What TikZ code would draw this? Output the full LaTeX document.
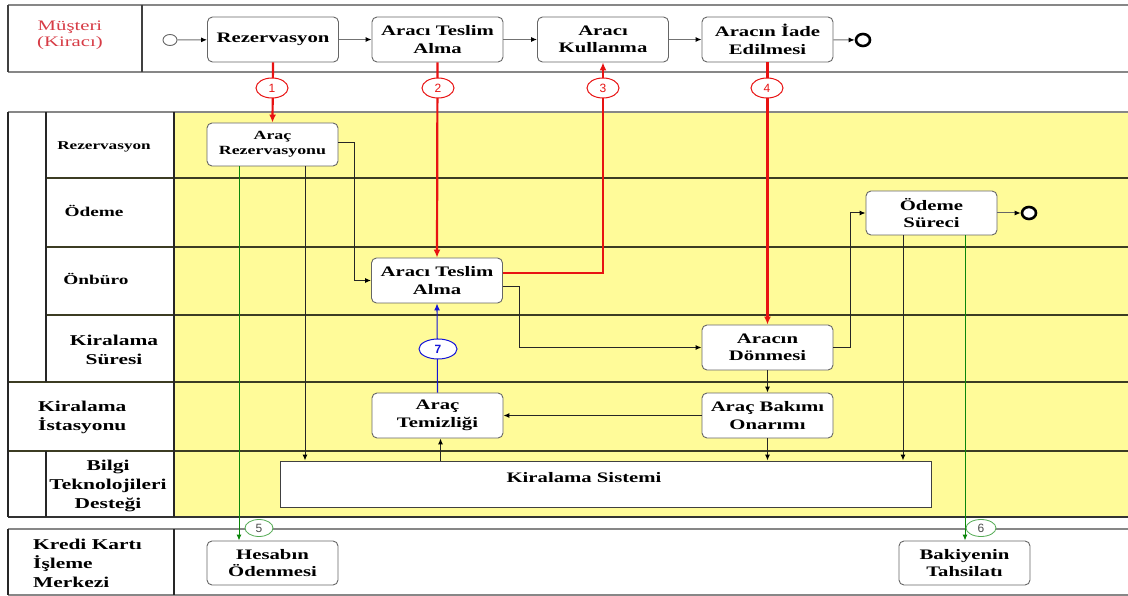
\documentclass[tikz,border=0pt]{standalone}
\usepackage{fontspec}
\setmainfont{Liberation Serif}[FakeStretch=1.43]
\setsansfont{Liberation Sans}
\usetikzlibrary{arrows.meta,shapes.geometric}

\definecolor{laneyellow}{RGB}{255,251,153}
\definecolor{flowred}{RGB}{232,18,18}
\definecolor{flowgreen}{RGB}{10,135,10}
\definecolor{flowblue}{RGB}{20,20,215}
\definecolor{poolgray}{RGB}{135,135,135}
\definecolor{laneline}{RGB}{60,60,35}
\definecolor{custred}{RGB}{215,60,70}

\begin{document}
\begin{tikzpicture}[x=1pt,y=-1pt,
  box/.style={draw=black!60, line width=0.9pt, rounded corners=5pt, fill=white,
    minimum width=131pt, minimum height=45pt, inner sep=0pt, align=center,
    font=\fontsize{14.5}{17.5}\selectfont\bfseries},
  lanelbl/.style={inner sep=0pt, font=\fontsize{15}{19}\selectfont\bfseries},
  tip/.style={-{Latex[length=6pt,width=5pt,color=black]}},
  topflow/.style={draw=black!55, line width=1pt, tip},
  flow/.style={draw=black!85, line width=1pt, tip},
  redflow/.style={draw=flowred, line width=2.2pt, -{Latex[length=8pt,width=7pt]}},
  greenflow/.style={draw=flowgreen, line width=1pt, -{Latex[length=6pt,width=5pt]}},
  blueflow/.style={draw=flowblue, line width=1.1pt, -{Latex[length=7pt,width=6pt]}},
  numbadge/.style={ellipse, fill=white, inner sep=0pt, minimum width=32pt, minimum height=20pt,
    font=\sffamily\fontsize{12}{12}\selectfont},
  startev/.style={ellipse, draw=black!60, line width=0.9pt, fill=white, inner sep=0pt,
    minimum width=14pt, minimum height=11pt},
  endev/.style={ellipse, draw=black, line width=2.6pt, fill=white, inner sep=0pt,
    minimum width=14pt, minimum height=12pt},
]
\useasboundingbox (0,0) rectangle (1128,596);
\fill[white] (0,0) rectangle (1128,596);

% ---- customer pool ----
\draw[poolgray, line width=1.5pt] (8,5) -- (1128,5) (8,72) -- (1128,72);
\draw[black!75, line width=1.2pt] (8,5) -- (8,72) (142,5) -- (142,72);
\node[align=center, text=custred, font=\fontsize{14.5}{16}\selectfont] (cust) at (70,35) {Müşteri\\(Kiracı)};

% ---- company pool ----
\fill[laneyellow] (174,112) rectangle (1128,517);
\draw[laneline, line width=1.2pt] (46,178) -- (1128,178) (46,247) -- (1128,247) (46,315) -- (1128,315)
  (8,382) -- (1128,382) (8,451) -- (1128,451);
\draw[poolgray, line width=1.5pt] (8,112) -- (1128,112);
\draw[black!80, line width=1.4pt] (8,517) -- (1128,517);
\draw[black!85, line width=1.2pt] (8,112) -- (8,517) (174,112) -- (174,517)
  (46,112) -- (46,382) (46,451) -- (46,517);

\node[lanelbl, font=\fontsize{12}{14}\selectfont\bfseries] (l1) at (104,147) {Rezervasyon};
\node[lanelbl, font=\fontsize{13.5}{16}\selectfont\bfseries] (l2) at (94,211) {Ödeme};
\node[lanelbl, font=\fontsize{13.5}{16}\selectfont\bfseries] (l3) at (96,279) {Önbüro};
\node[lanelbl, align=center] (l4) at (114,350) {Kiralama\\Süresi};
\node[lanelbl, align=left, anchor=west] (l5) at (38,417) {Kiralama\\İstasyonu};
\node[lanelbl, align=center] (l6) at (108,486) {Bilgi\\Teknolojileri\\Desteği};

% ---- card centre pool ----
\draw[poolgray, line width=1.5pt] (8,529) -- (1128,529) (8,595) -- (1128,595);
\draw[black!85, line width=1.2pt] (8,529) -- (8,595) (174,529) -- (174,595);
\node[lanelbl, align=left, anchor=west] (l7) at (33,563) {Kredi Kartı\\İşleme\\Merkezi};

% ---- customer activities ----
\node[startev] (st) at (170,40) {};
\node[box] (rez) at (273,39.5) {Rezervasyon};
\node[box] (tes) at (437.5,39.5) {Aracı Teslim\\Alma};
\node[box] (kul) at (603,39.5) {Aracı\\Kullanma};
\node[box] (iad) at (767.5,39.5) {Aracın İade\\Edilmesi};
\node[endev] (en1) at (863,40) {};

\draw[topflow] (st) -- (rez);
\draw[topflow] (rez) -- (tes);
\draw[topflow] (tes) -- (kul);
\draw[topflow] (kul) -- (iad);
\draw[topflow] (iad) -- (en1);

% ---- company activities ----
\node[box, minimum height=43pt, font=\fontsize{12.5}{15}\selectfont\bfseries] (arez) at (272.5,144.5) {Araç\\Rezervasyonu};
\node[box] (mtes) at (437,280.5) {Aracı Teslim\\Alma};
\node[box] (don) at (767.5,347.5) {Aracın\\Dönmesi};
\node[box] (bak) at (767.5,415.5) {Araç Bakımı\\Onarımı};
\node[box] (tem) at (437.5,415.5) {Araç\\Temizliği};
\node[box, minimum height=44pt] (ode) at (931.5,213) {Ödeme\\Süreci};
\node[endev] (en2) at (1029,213) {};
\node[draw=black!75, line width=1pt, fill=white, minimum width=651pt, minimum height=46pt, inner sep=0pt] (sys) at (605.5,484) {};
\node[font=\fontsize{14.5}{17}\selectfont\bfseries] (systxt) at (584,478) {Kiralama Sistemi};

% ---- card centre activities ----
\node[box, minimum height=44pt] (hes) at (272.5,563) {Hesabın\\Ödenmesi};
\node[box, minimum height=44pt] (bky) at (964.5,563) {Bakiyenin\\Tahsilatı};

% ---- internal flows ----
\draw[flow] ([yshift=1.5pt]arez.east) -- ++(16,0) |- (mtes.west);
\draw[flow] ([xshift=32.5pt]arez.south) coordinate (a1) -- (a1 |- sys.north);
\draw[flow] ([yshift=-6.5pt]mtes.east) -- ++(17,0) |- (don.west);
\draw[flow] (don) -- (bak);
\draw[flow] (don.east) -- ++(17,0) |- (ode.west);
\draw[topflow, draw=black!60] (ode.east) -- (en2);
\draw[flow] ([xshift=-28.5pt]ode.south) coordinate (o1) -- (o1 |- sys.north);
\draw[flow] (bak) -- (tem);
\draw[flow] (bak.south) -- (bak.south |- sys.north);
\coordinate (t1) at ([xshift=3pt]tem.south);
\draw[flow] (t1 |- sys.north) -- (t1);
\draw[greenflow] ([xshift=-33.5pt]arez.south) coordinate (g1) -- (g1 |- hes.north);
\draw[greenflow] ([xshift=33.5pt]ode.south) coordinate (g2) -- (g2 |- bky.north);
\draw[blueflow] (tem.north) -- (mtes.south);

% ---- customer <-> company messages ----
\draw[redflow] (rez.south) -- (arez.north);
\draw[redflow] (tes.south) -- (mtes.north);
\draw[redflow] ([yshift=7.5pt]mtes.east) -| (kul.south);
\draw[redflow] (iad.south) -- (don.north);

% ---- step numbers ----
\node[numbadge, draw=flowred, line width=1pt, text=flowred] (n1) at (272,88) {1};
\node[numbadge, draw=flowred, line width=1pt, text=flowred] (n2) at (438,88) {2};
\node[numbadge, draw=flowred, line width=1pt, text=flowred] (n3) at (603,88) {3};
\node[numbadge, draw=flowred, line width=1pt, text=flowred] (n4) at (767,88) {4};
\node[numbadge, draw=flowgreen!70, line width=0.8pt, text=black!70, minimum width=28pt, minimum height=17pt] (n5) at (259,528) {5};
\node[numbadge, draw=flowgreen!70, line width=0.8pt, text=black!70, minimum width=30pt, minimum height=17pt] (n6) at (981,528) {6};
\node[numbadge, draw=flowblue, line width=1pt, text=flowblue, minimum width=38pt, minimum height=20pt, font=\sffamily\bfseries\fontsize{12}{12}\selectfont] (n7) at (438,349) {7};
\end{tikzpicture}
\end{document}
